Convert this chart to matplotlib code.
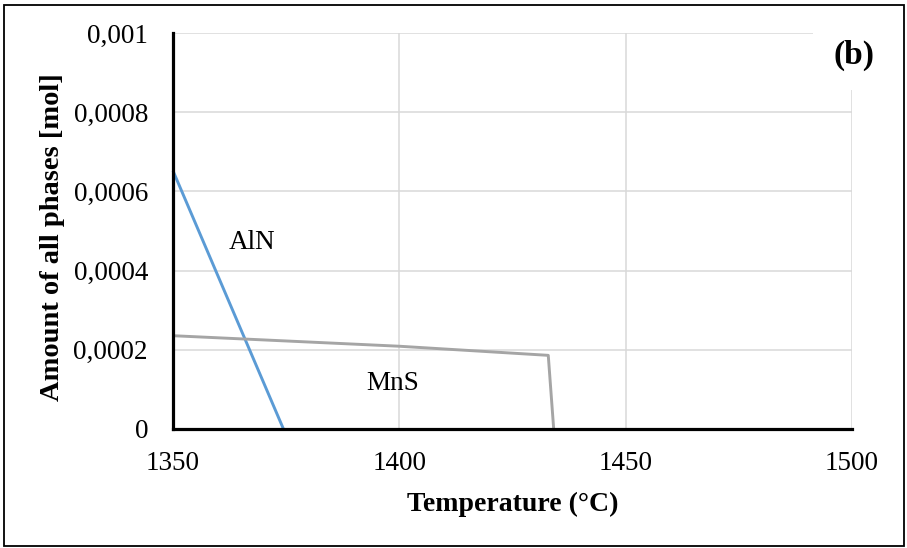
import matplotlib
matplotlib.use("Agg")
import matplotlib.pyplot as plt
from matplotlib.patches import Rectangle

# Data
aln_T = [1350, 1374.4]
aln_mol = [0.000652, 0.0]
mns_T = [1350, 1400, 1432.9, 1434.1]
mns_mol = [0.0002356, 0.000209, 0.000186, 0.0]
x_ticks = [1350, 1400, 1450, 1500]
y_ticks = [0, 0.0002, 0.0004, 0.0006, 0.0008, 0.001]
y_tick_labels = ["0", "0,0002", "0,0004", "0,0006", "0,0008", "0,001"]

plt.rcParams['font.family'] = ['Liberation Serif', 'DejaVu Serif']

W, H = 907, 548
fig = plt.figure(figsize=(W / 100, H / 100), dpi=100)
ax = fig.add_axes([173 / W, 1 - 429 / H, (852 - 173) / W, (429 - 33) / H])

ax.plot(aln_T, aln_mol, color='#5B9BD5', lw=2.1, solid_capstyle='butt', zorder=3, clip_on=False)
ax.plot(mns_T, mns_mol, color='#A5A5A5', lw=2.1, solid_capstyle='butt', zorder=3, clip_on=False)

ax.set_xlim(1350, 1500)
ax.set_ylim(0, 0.001)
ax.set_xticks(x_ticks)
ax.set_xticklabels([str(t) for t in x_ticks])
ax.set_yticks(y_ticks)
ax.set_yticklabels(y_tick_labels)
ax.tick_params(axis='both', length=0, labelsize=19.5)
ax.tick_params(axis='y', pad=18)
ax.tick_params(axis='x', pad=16)

ax.grid(True, color='#d9d9d9', lw=1.1)
ax.set_axisbelow(True)
for s in ['top', 'right']:
    ax.spines[s].set_visible(False)
for s in ['left', 'bottom']:
    ax.spines[s].set_linewidth(2.3)
    ax.spines[s].set_color('black')
    ax.spines[s].set_zorder(4)

ax.set_xlabel('Temperature (°C)', fontsize=20, fontweight='bold', labelpad=11)
ax.set_ylabel('Amount of all phases [mol]', fontsize=20.5, fontweight='bold')
ax.yaxis.set_label_coords(-0.159, 0.485)

ax.text(1367.5, 0.000472, 'AlN', fontsize=19.5, ha='center', va='center')
ax.text(1398.6, 0.000116, 'MnS', fontsize=19.5, ha='center', va='center')

# (b) label with white box covering gridlines
fig.patches.append(Rectangle((813 / W, 1 - 90 / H), (875 - 813) / W, (90 - 25) / H,
                             transform=fig.transFigure, facecolor='white', edgecolor='none', zorder=5))
fig.text(854 / W, 1 - 55 / H, '(b)', fontsize=24, fontweight='bold', ha='center', va='center', zorder=6)

# outer border
fig.patches.append(Rectangle((3.5 / W, 1 - 546 / H), (904 - 3.5) / W, (546 - 5) / H,
                             transform=fig.transFigure, facecolor='none', edgecolor='black', lw=1.3, zorder=10))

fig.savefig('out.png', dpi=100)
